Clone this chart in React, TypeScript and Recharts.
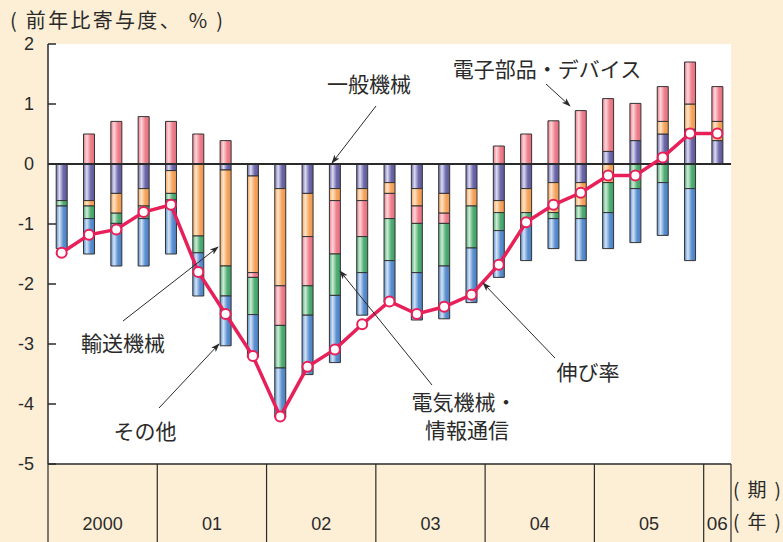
import {
  Bar,
  CartesianGrid,
  ComposedChart,
  Line,
  ReferenceLine,
  XAxis,
  YAxis,
} from "recharts";

const QUARTERS = [
  "2000Q1", "2000Q2", "2000Q3", "2000Q4",
  "01Q1", "01Q2", "01Q3", "01Q4",
  "02Q1", "02Q2", "02Q3", "02Q4",
  "03Q1", "03Q2", "03Q3", "03Q4",
  "04Q1", "04Q2", "04Q3", "04Q4",
  "05Q1", "05Q2", "05Q3", "05Q4",
  "06Q1",
];
const YEARS = ["2000", "01", "02", "03", "04", "05", "06"];

// 一般機械
const GENERAL = [-0.61, -0.61, -0.49, -0.41, -0.11, 0, -0.1, -0.2, -0.41, -0.49, -0.41, -0.41, -0.31, -0.41, -0.49, -0.41, -0.61, -0.41, -0.31, -0.31, 0.21, 0.39, 0.5, 0.58, 0.39];
// 輸送機械
const TRANSPORT = [0, -0.09, -0.33, -0.29, -0.38, -1.2, -1.6, -1.61, -1.62, -0.72, -0.2, -0.2, -0.18, -0.29, -0.33, -0.29, -0.2, -0.4, -0.5, -0.39, -0.31, 0, 0.21, 0.42, 0.32];
// 電子部品・デバイス
const ELECTRONICS = [0, 0.5, 0.71, 0.79, 0.71, 0.5, 0.39, -0.08, -0.66, -0.82, -0.89, -0.6, -0.42, -0.29, -0.17, 0, 0.3, 0.5, 0.72, 0.89, 0.88, 0.62, 0.58, 0.7, 0.58];
// 電気機械・情報通信
const ELECTRICAL = [-0.09, -0.21, -0.17, -0.21, -0.11, -0.28, -0.5, -0.62, -0.71, -0.49, -0.69, -0.6, -0.7, -0.82, -0.71, -0.7, -0.3, -0.18, -0.1, -0.21, -0.5, -0.41, -0.31, -0.41, 0];
// その他
const OTHER = [-0.71, -0.59, -0.71, -0.79, -0.9, -0.72, -0.83, -0.71, -0.82, -0.99, -1.12, -0.71, -0.7, -0.79, -0.88, -0.91, -0.78, -0.62, -0.5, -0.7, -0.6, -0.9, -0.88, -1.2, 0];
// 伸び率
const GROWTH = [-1.48, -1.18, -1.09, -0.8, -0.68, -1.8, -2.5, -3.2, -4.21, -3.38, -3.09, -2.67, -2.29, -2.5, -2.38, -2.18, -1.68, -0.97, -0.68, -0.48, -0.19, -0.19, 0.11, 0.51, 0.51];

const Y_TICKS = [2, 1, 0, -1, -2, -3, -4, -5];

const data = QUARTERS.map((q, i) => ({
  q,
  general: GENERAL[i],
  transport: TRANSPORT[i],
  electronics: ELECTRONICS[i],
  electrical: ELECTRICAL[i],
  other: OTHER[i],
  growth: GROWTH[i],
}));

const W = 783;
const H = 542;
const MARGIN = { top: 44, right: 52, bottom: 0, left: 0 };
const Y_AXIS_W = 48;
const X_AXIS_H = 78;
const PLOT_W = W - MARGIN.right - Y_AXIS_W;
const BAND = PLOT_W / QUARTERS.length;

const BG = "#fdefd6";
const INK = "#2a2a2a";
const LINE = "#e8205a";
const NUM_FONT = "'Liberation Sans', Arial, sans-serif";
const JP_FONT = "'Noto Sans CJK JP', sans-serif";

const GRADS = [
  { id: "gPurple", edge: "#6e69aa", light: "#dcdcf2", dark: "#5c5799" },
  { id: "gOrange", edge: "#f5a55e", light: "#ffe4c8", dark: "#ee974e" },
  { id: "gPink", edge: "#ee7f8c", light: "#fdd6da", dark: "#e56f7e" },
  { id: "gGreen", edge: "#4fae73", light: "#d0ebd8", dark: "#419f66" },
  { id: "gBlue", edge: "#5a8fd0", light: "#d4e3f5", dark: "#4a7fc2" },
];

function YTick({ x, y, payload }: any) {
  return (
    <g>
      <text x={x} y={y} dy={6} textAnchor="end" fontSize={18} fontFamily={NUM_FONT} fill={INK}>
        {payload.value}
      </text>
      <line x1={x + 14} x2={x + 22} y1={y} y2={y} stroke={INK} strokeWidth={1.5} />
    </g>
  );
}

function XTick({ x, y, index }: any) {
  if (index % 4 !== 0) {
    if (index === QUARTERS.length - 1) {
      return <line x1={x + BAND / 2} x2={x + BAND / 2} y1={y} y2={H} stroke={INK} strokeWidth={1.2} />;
    }
    return null;
  }
  const left = x - BAND / 2;
  const n = Math.min(4, QUARTERS.length - index);
  const label = YEARS[index / 4];
  const isLast = index === QUARTERS.length - 1;
  return (
    <g>
      <line x1={left} x2={left} y1={y} y2={H} stroke={INK} strokeWidth={1.2} />
      {isLast && (
        <line x1={left + BAND} x2={left + BAND} y1={y} y2={H} stroke={INK} strokeWidth={1.2} />
      )}
      <text
        x={left + (n * BAND) / 2}
        y={y + 66}
        textAnchor="middle"
        fontSize={18}
        fontFamily={NUM_FONT}
        fill={INK}
        {...(isLast ? { textLength: 21, lengthAdjust: "spacingAndGlyphs" } : {})}
      >
        {label}
      </text>
    </g>
  );
}

const ANNOTATIONS = [
  { text: "一般機械", x: 369, y: 92, from: [376, 106], to: [332, 163] },
  { text: "電子部品・デバイス", x: 547, y: 77, from: [546, 84], to: [570, 106] },
  { text: "輸送機械", x: 123, y: 351, from: [123, 321], to: [218, 247] },
  { text: "その他", x: 145, y: 439, from: [159, 408], to: [219, 344] },
  { text: "電気機械・", x: 464, y: 410, from: [432, 385], to: [340, 271] },
  { text: "情報通信", x: 467, y: 438, from: null, to: null },
  { text: "伸び率", x: 588, y: 380, from: [555, 358], to: [483, 283] },
];

function Overlay() {
  return (
    <svg
      width={W}
      height={H}
      style={{ position: "absolute", left: 0, top: 0, pointerEvents: "none" }}
    >
      <defs>
        <marker id="arrow" viewBox="0 0 10 10" refX="9" refY="5" markerWidth="9" markerHeight="9" orient="auto">
          <path d="M0,1.5 L10,5 L0,8.5 L2.5,5 z" fill={INK} />
        </marker>
      </defs>
      <text x={10} y={28} fontSize={20} fontFamily={JP_FONT} fill={INK} textLength={213} lengthAdjust="spacing">
        ( 前年比寄与度、 % )
      </text>
      {ANNOTATIONS.map((a) => (
        <g key={a.text}>
          {a.from && a.to && (
            <line
              x1={a.from[0]}
              y1={a.from[1]}
              x2={a.to[0]}
              y2={a.to[1]}
              stroke={INK}
              strokeWidth={1}
              markerEnd="url(#arrow)"
            />
          )}
          <text x={a.x} y={a.y} textAnchor="middle" fontSize={21} fontFamily={JP_FONT} fill={INK}>
            {a.text}
          </text>
        </g>
      ))}
      <text x={733} y={497} fontSize={19} fontFamily={JP_FONT} fill={INK} textLength={48} lengthAdjust="spacing">( 期 )</text>
      <text x={733} y={529} fontSize={19} fontFamily={JP_FONT} fill={INK} textLength={48} lengthAdjust="spacing">( 年 )</text>
    </svg>
  );
}

export default function App() {
  return (
    <div style={{ position: "absolute", left: 0, top: 0, width: W, height: H, background: BG }}>
      <ComposedChart
        width={W}
        height={H}
        data={data}
        margin={MARGIN}
        stackOffset="sign"
        barCategoryGap="30%"
      >
        <defs>
          {GRADS.map((g) => (
            <linearGradient key={g.id} id={g.id} x1="0" y1="0" x2="1" y2="0">
              <stop offset="0%" stopColor={g.edge} />
              <stop offset="30%" stopColor={g.light} />
              <stop offset="65%" stopColor={g.edge} />
              <stop offset="100%" stopColor={g.dark} />
            </linearGradient>
          ))}
        </defs>
        <CartesianGrid fill="#ffffff" stroke="none" horizontal={false} vertical={false} />
        <XAxis
          dataKey="q"
          interval={0}
          height={X_AXIS_H}
          tickLine={false}
          tickSize={0}
          tickMargin={0}
          axisLine={{ stroke: INK, strokeWidth: 1.5 }}
          tick={<XTick />}
        />
        <XAxis
          xAxisId="top"
          dataKey="q"
          orientation="top"
          height={0}
          tick={false}
          tickLine={false}
          axisLine={{ stroke: INK, strokeWidth: 1.5 }}
        />
        <YAxis
          domain={[-5, 2]}
          ticks={Y_TICKS}
          width={Y_AXIS_W}
          tickLine={false}
          tickSize={0}
          tickMargin={14}
          axisLine={{ stroke: INK, strokeWidth: 1.5 }}
          tick={<YTick />}
          interval={0}
        />
        <YAxis
          yAxisId="right"
          orientation="right"
          width={0}
          tick={false}
          tickLine={false}
          axisLine={{ stroke: INK, strokeWidth: 1.5 }}
        />
        <Bar dataKey="general" stackId="a" fill="url(#gPurple)" stroke="#333" strokeWidth={1} isAnimationActive={false} />
        <Bar dataKey="transport" stackId="a" fill="url(#gOrange)" stroke="#333" strokeWidth={1} isAnimationActive={false} />
        <Bar dataKey="electronics" stackId="a" fill="url(#gPink)" stroke="#333" strokeWidth={1} isAnimationActive={false} />
        <Bar dataKey="electrical" stackId="a" fill="url(#gGreen)" stroke="#333" strokeWidth={1} isAnimationActive={false} />
        <Bar dataKey="other" stackId="a" fill="url(#gBlue)" stroke="#333" strokeWidth={1} isAnimationActive={false} />
        <ReferenceLine y={0} stroke={INK} strokeWidth={1.8} />
        <Line
          dataKey="growth"
          type="linear"
          stroke={LINE}
          strokeWidth={3.5}
          dot={{ r: 5, fill: "#fff", stroke: LINE, strokeWidth: 2 }}
          isAnimationActive={false}
        />
      </ComposedChart>
      <Overlay />
    </div>
  );
}
